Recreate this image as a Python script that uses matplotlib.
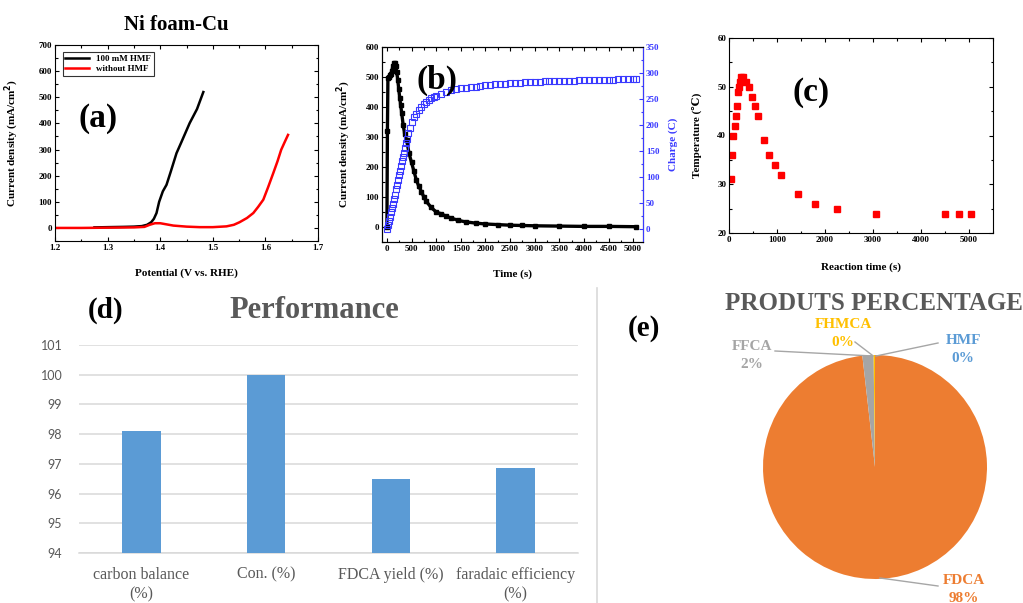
import matplotlib
matplotlib.use('Agg')
import matplotlib.pyplot as plt
from matplotlib.lines import Line2D
from matplotlib.ticker import AutoMinorLocator, MultipleLocator

SERIF = 'Liberation Serif'

# (a) LSV curves
pot_hmf = [1.275, 1.30, 1.33, 1.35, 1.365, 1.375, 1.383, 1.388, 1.393, 1.398, 1.405, 1.412,
           1.42, 1.431, 1.44, 1.456, 1.47, 1.482]
cur_hmf = [2, 3, 4, 5, 7, 12, 22, 35, 57, 100, 140, 165, 215, 286, 327, 401, 455, 520]
pot_blank = [1.2, 1.25, 1.3, 1.35, 1.37, 1.38, 1.39, 1.40, 1.425, 1.45, 1.475, 1.5, 1.526,
             1.54, 1.551, 1.565, 1.577, 1.586, 1.596, 1.605, 1.615, 1.623, 1.63, 1.637, 1.643]
cur_blank = [0, 0, 1, 2, 4, 12, 18, 18, 9, 5, 3, 3, 6, 12, 22, 38, 57, 80, 108, 155, 210,
             255, 299, 330, 356]

# (b) chronoamperometry
time_j = [0, 10, 20, 40, 60, 80, 100, 120, 140, 160, 180, 200, 220, 240, 260, 280, 300, 330,
          360, 400, 450, 500, 550, 600, 650, 700, 750, 800, 900, 1000, 1100, 1200, 1300, 1450,
          1600, 1800, 2000, 2250, 2500, 2750, 3000, 3500, 4000, 4500, 5050]
current = [0, 320, 495, 500, 505, 510, 520, 535, 545, 545, 535, 515, 490, 460, 430, 405, 380,
           340, 310, 290, 245, 215, 185, 155, 135, 118, 100, 85, 65, 50, 44, 36, 30, 22, 17,
           13, 10, 8, 6, 5, 4, 3, 2, 2, 1]
time_q = [0, 20, 40, 60, 80, 100, 120, 140, 160, 180, 200, 220, 240, 260, 280, 300, 320, 340,
          360, 380, 400, 430, 460, 500, 550, 600, 650, 700, 750, 800, 850, 900, 950,
          1000, 1100, 1200, 1300, 1400, 1500, 1600, 1700, 1800, 1900, 2000, 2100, 2200, 2300,
          2400, 2500, 2600, 2700, 2800, 2900, 3000, 3100, 3200, 3300, 3400, 3500, 3600, 3700,
          3800, 3900, 4000, 4100, 4200, 4300, 4400, 4500, 4600, 4700, 4800, 4900, 5000, 5050]
charge = [0, 8, 16, 24, 32, 40, 48, 57, 66, 76, 85, 94, 103, 112, 121, 130, 139, 147, 156,
          165, 173, 184, 195, 205, 215, 222, 229, 234, 240, 244, 248, 251, 254,
          256, 260, 263, 267, 269, 271, 272, 273, 274, 275, 276, 277, 278, 278,
          279, 280, 281, 281, 282, 282, 283, 283, 284, 284, 284, 285, 285, 285,
          285, 286, 286, 286, 286, 287, 287, 287, 287, 288, 288, 288, 288, 288]

# (c) temperature
react_time = [35, 55, 90, 125, 145, 160, 195, 215, 235, 255, 300, 360, 420, 480, 540, 600,
              720, 840, 960, 1080, 1440, 1800, 2250, 3060, 4500, 4800, 5040]
temperature = [31, 36, 40, 42, 44, 46, 49, 50, 51, 52, 52, 51, 50, 48, 46, 44, 39, 36, 34, 32,
               28, 26, 25, 24, 24, 24, 24]

# (d) performance
perf_labels = ['carbon balance\n(%)', 'Con. (%)', 'FDCA yield (%)', 'faradaic efficiency\n(%)']
perf_values = [98.1, 100.0, 96.5, 96.85]

# (e) products (clockwise from 12 o'clock)
prod_names = ['HMF', 'FDCA', 'FFCA', 'FHMCA']
prod_values = [0.0, 98.2, 1.6, 0.2]
prod_colors = ['#5B9BD5', '#ED7D31', '#A5A5A5', '#FFC000']

W, H = 1023, 603


def fx(x):
    return x / W


def fy(y):
    return 1 - y / H


def box(l, t, r, b):
    return [fx(l), fy(b), (r - l) / W, (b - t) / H]


def origin_style(ax):
    ax.tick_params(which='both', direction='in', top=True, right=True, width=0.8)
    ax.tick_params(which='major', length=3, labelsize=6.5, pad=2)
    ax.tick_params(which='minor', length=1.8)
    ax.xaxis.set_minor_locator(AutoMinorLocator(2))
    ax.yaxis.set_minor_locator(AutoMinorLocator(2))
    for lab in ax.get_xticklabels() + ax.get_yticklabels():
        lab.set_fontfamily(SERIF)
        lab.set_fontweight('bold')
    for s in ax.spines.values():
        s.set_linewidth(0.8)


fig = plt.figure(figsize=(W / 100, H / 100), dpi=100)
lab_kw = dict(fontfamily=[SERIF, 'DejaVu Serif', 'DejaVu Sans'], fontweight='bold', fontsize=8)
big_kw = dict(fontfamily=SERIF, fontweight='bold', fontsize=24)

# ---- (a)
ax_a = fig.add_axes(box(55, 45, 318, 241))
ax_a.plot(pot_hmf, cur_hmf, color='black', lw=1.8, label='100 mM HMF')
ax_a.plot(pot_blank, cur_blank, color='red', lw=1.8, label='without HMF')
ax_a.set_xlim(1.2, 1.7)
ax_a.set_ylim(-50, 700)
ax_a.xaxis.set_major_locator(MultipleLocator(0.1))
ax_a.yaxis.set_major_locator(MultipleLocator(100))
origin_style(ax_a)
ax_a.set_xlabel('Potential (V vs. RHE)', **lab_kw)
ax_a.set_ylabel('Current density (mA/cm$^\\mathbf{2}$)', **lab_kw)
ax_a.xaxis.set_label_coords(0.5, -0.138)
ax_a.yaxis.set_label_coords(-0.129, 0.5)
leg = ax_a.legend(loc='upper left', bbox_to_anchor=(0.012, 0.985), fancybox=False,
                  edgecolor='black', handlelength=2.6, borderpad=0.3, labelspacing=0.15,
                  prop={'family': SERIF, 'weight': 'bold', 'size': 6.5})
leg.get_frame().set_linewidth(0.8)
fig.text(fx(176), fy(25), 'Ni foam-Cu', ha='center', va='center', fontfamily=SERIF,
         fontweight='bold', fontsize=15)
fig.text(fx(98), fy(118), '(a)', ha='center', va='center', **big_kw)

# ---- (b)
ax_b = fig.add_axes(box(382, 47, 643, 242))
ax_b.plot(time_j, current, color='black', lw=2.4, marker='s', ms=3.4)
ax_b.set_xlim(-100, 5200)
ax_b.set_ylim(-50, 600)
ax_b.xaxis.set_major_locator(MultipleLocator(500))
ax_b.yaxis.set_major_locator(MultipleLocator(100))
origin_style(ax_b)
ax_b.tick_params(which='both', right=False)
ax_b.set_xlabel('Time (s)', **lab_kw)
ax_b.set_ylabel('Current density (mA/cm$^\\mathbf{2}$)', **lab_kw)
ax_b.xaxis.set_label_coords(0.5, -0.143)
ax_b.yaxis.set_label_coords(-0.11, 0.5)
ax_b2 = ax_b.twinx()
ax_b2.plot(time_q, charge, ls='none', marker='s', ms=3.8, mfc='none', mec='#3a3aff', mew=0.8)
ax_b2.set_ylim(-25, 350)
ax_b2.yaxis.set_major_locator(MultipleLocator(50))
ax_b2.yaxis.set_minor_locator(AutoMinorLocator(2))
ax_b2.tick_params(which='both', direction='in', colors='#3a3aff', width=0.8)
ax_b2.tick_params(which='major', length=3, labelsize=6.5, pad=2)
ax_b2.tick_params(which='minor', length=1.8)
for lab in ax_b2.get_yticklabels():
    lab.set_fontfamily(SERIF)
    lab.set_fontweight('bold')
ax_b2.spines['right'].set_color('#3a3aff')
ax_b2.set_ylabel('Charge (C)', color='#3a3aff', **lab_kw)
ax_b2.yaxis.set_label_coords(1.096, 0.5)
fig.text(fx(437), fy(80), '(b)', ha='center', va='center', **big_kw)

# ---- (c)
ax_c = fig.add_axes(box(729, 38, 993, 233))
ax_c.plot(react_time, temperature, ls='none', marker='s', ms=3.8, color='red')
ax_c.set_xlim(0, 5500)
ax_c.set_ylim(20, 60)
ax_c.xaxis.set_major_locator(MultipleLocator(1000))
ax_c.yaxis.set_major_locator(MultipleLocator(10))
origin_style(ax_c)
ax_c.set_xlabel('Reaction time (s)', **lab_kw)
ax_c.set_ylabel('Temperature (\u2103)', **lab_kw)
ax_c.xaxis.set_label_coords(0.5, -0.152)
ax_c.yaxis.set_label_coords(-0.102, 0.5)
fig.text(fx(811), fy(93), '(c)', ha='center', va='center', **big_kw)

# ---- (d)
ax_d = fig.add_axes(box(79, 345, 578, 553))
ax_d.bar(range(len(perf_values)), perf_values, width=0.31, color='#5B9BD5', zorder=3)
ax_d.set_ylim(94, 101)
ax_d.set_xlim(-0.5, 3.5)
ax_d.yaxis.set_major_locator(MultipleLocator(1))
ax_d.grid(axis='y', color='#D9D9D9', lw=1.1, zorder=0)
for s in ['top', 'right', 'left']:
    ax_d.spines[s].set_visible(False)
ax_d.spines['bottom'].set_color('#D9D9D9')
ax_d.spines['bottom'].set_linewidth(1.1)
ax_d.set_xticks(range(len(perf_values)))
ax_d.set_xticklabels(perf_labels, fontfamily=SERIF, fontsize=11.5, color='#595959',
                     linespacing=1.3)
ax_d.tick_params(axis='both', length=0)
ax_d.tick_params(axis='x', pad=10)
ax_d.tick_params(axis='y', pad=12, labelsize=9, labelcolor='#595959')
for lab in ax_d.get_yticklabels():
    lab.set_fontfamily('Lato')
fig.text(fx(314), fy(310), 'Performance', ha='center', va='center', fontfamily=SERIF,
         fontweight='bold', fontsize=22, color='#595959')
fig.text(fx(106), fy(310), '(d)', ha='center', va='center', fontfamily=SERIF,
         fontweight='bold', fontsize=21)

# separator
fig.add_artist(Line2D([fx(597), fx(597)], [fy(288), fy(603)], color='#D9D9D9', lw=1.2))

# ---- (e)
ax_e = fig.add_axes(box(763, 355, 987, 579))
ax_e.pie(prod_values, colors=prod_colors, startangle=90, counterclock=False, radius=1.0,
         wedgeprops={'linewidth': 0})
ax_e.set_xlim(-1, 1)
ax_e.set_ylim(-1, 1)
ax_e.set_aspect('auto')
ax_e.axis('off')
fig.text(fx(874), fy(304), 'PRODUTS PERCENTAGE', ha='center', va='center',
         fontfamily=SERIF, fontweight='bold', fontsize=18, color='#595959')
fig.text(fx(644), fy(328), '(e)', ha='center', va='center', fontfamily=SERIF,
         fontweight='bold', fontsize=21)

lbl_pos = {'FFCA': (752, 347), 'FHMCA': (843, 325), 'HMF': (963, 341), 'FDCA': (964, 581)}
leaders = {'FFCA': [(775, 351), (873, 356)], 'FHMCA': [(855, 342), (872, 355)],
           'HMF': [(938, 343), (876, 356)], 'FDCA': [(938, 586), (880, 578)]}
for name, val, col in zip(prod_names, prod_values, prod_colors):
    x, y = lbl_pos[name]
    fig.text(fx(x), fy(y), name, ha='center', va='center', fontfamily=SERIF,
             fontweight='bold', fontsize=11, color=col)
    fig.text(fx(x), fy(y + 17), '%d%%' % round(val), ha='center', va='center',
             fontfamily=SERIF, fontweight='bold', fontsize=11, color=col)
    (x0, y0), (x1, y1) = leaders[name]
    fig.add_artist(Line2D([fx(x0), fx(x1)], [fy(y0), fy(y1)], color='#A6A6A6', lw=1.0))

fig.savefig('out.png', dpi=100, facecolor='white')
